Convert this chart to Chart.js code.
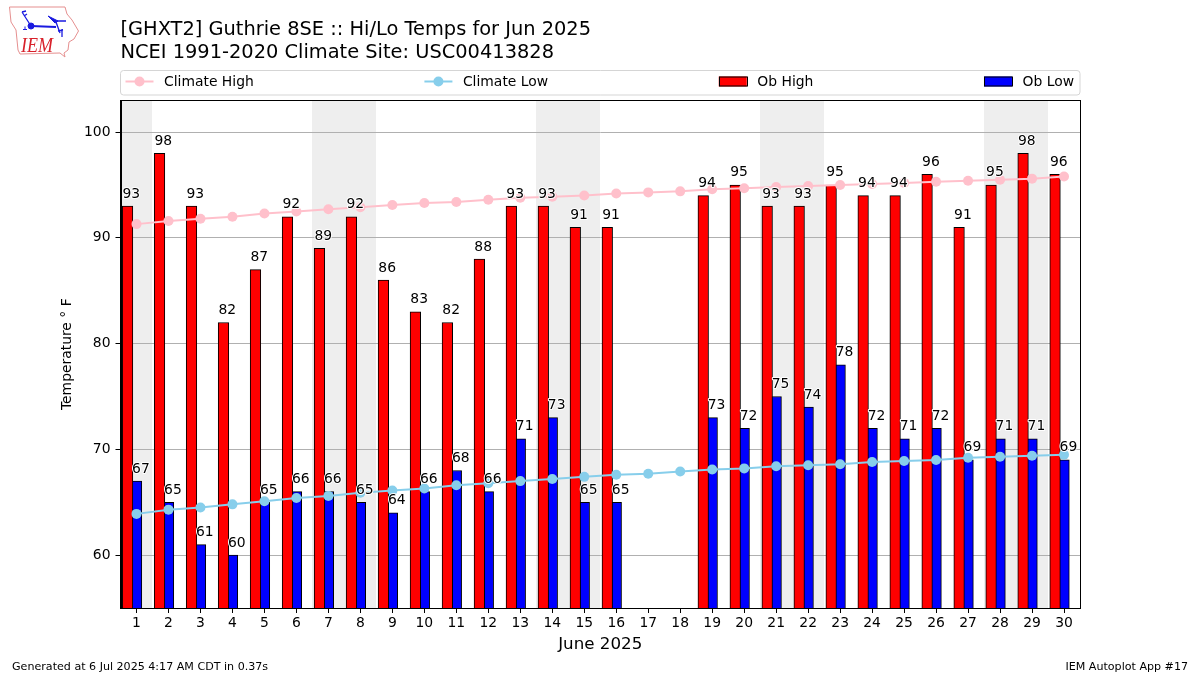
<!DOCTYPE html>
<html>
<head>
<meta charset="utf-8">
<script src="https://cdn.jsdelivr.net/npm/chart.js@4"></script>
<style>
  html, body { margin: 0; background: #fff; }
  #wrap { position: relative; width: 1200px; height: 675px; }
  #logo { position: absolute; left: 0; top: 0; }
</style>
</head>
<body>
<div id="wrap">
  <canvas id="chart" width="1200" height="675"></canvas>
  <svg id="logo" width="90" height="64" viewBox="0 0 90 64">
    <path d="M9.5 7 L65 7 L67 14 L72 20 L78.5 31 L74 39 L69 42 L68 50 L64 53 L65 57 L60 53 L20 54 L18 50 L16 30 L11 22 Z" fill="#fff" stroke="#e58f8f" stroke-width="1"/>
    <g stroke="#1a1ae0" fill="#1a1ae0">
      <path d="M31 26 L56 27" stroke-width="2" fill="none"/>
      <circle cx="31" cy="26" r="3"/>
      <path d="M31 26 L22 12 M22 12 L26 11 M24 16 L27 14" stroke-width="1.3" fill="none"/>
      <path d="M48 16 L58 21 L55 23 Z" stroke-width="1"/>
      <path d="M57 21 L66 21 M56 22 L60 33 M62 29 L62 37 M58 31 L63 30" stroke-width="1.3" fill="none"/>
      <path d="M23 29.5 L27 29.5 M25 26.5 L25 29" stroke-width="1" fill="none"/>
    </g>
    <text x="21" y="52" font-family="Liberation Serif" font-style="italic" font-size="22" textLength="32" lengthAdjust="spacingAndGlyphs" fill="#d8202a">IEM</text>
  </svg>
</div>
<script>
const days = [1,2,3,4,5,6,7,8,9,10,11,12,13,14,15,16,17,18,19,20,21,22,23,24,25,26,27,28,29,30];
const obHigh = [93,98,93,82,87,92,89,92,86,83,82,88,93,93,91,91,null,null,94,95,93,93,95,94,94,96,91,95,98,96];
const obLow = [67,65,61,60,65,66,66,65,64,66,68,66,71,73,65,65,null,null,73,72,75,74,78,72,71,72,69,71,71,69];
const climateHigh = [91.3,91.6,91.8,92.0,92.3,92.5,92.7,92.9,93.1,93.3,93.4,93.6,93.8,93.9,94.0,94.2,94.3,94.4,94.6,94.7,94.8,94.9,95.0,95.1,95.2,95.3,95.4,95.5,95.6,95.8];
const climateLow = [63.9,64.3,64.5,64.8,65.1,65.4,65.6,65.9,66.1,66.3,66.6,66.8,67.0,67.2,67.4,67.6,67.7,67.9,68.1,68.2,68.4,68.5,68.6,68.8,68.9,69.0,69.2,69.3,69.4,69.5];
const weekendDays = [1,7,8,14,15,21,22,28,29];
const titleLines = ["[GHXT2] Guthrie 8SE :: Hi/Lo Temps for Jun 2025", "NCEI 1991-2020 Climate Site: USC00413828"];

const FONT = "'DejaVu Sans'";

// weekend bands go under the grid
const shading = {
  id: "shading",
  beforeDraw(chart) {
    const { ctx, chartArea, scales } = chart;
    ctx.save();
    ctx.fillStyle = "#eeeeee";
    weekendDays.forEach(d => {
      const x0 = Math.round(scales.x.getPixelForValue(d - 0.5));
      const x1 = Math.round(scales.x.getPixelForValue(d + 0.5));
      ctx.fillRect(x0, chartArea.top, x1 - x0, chartArea.bottom - chartArea.top);
    });
    ctx.restore();
  }
};

// value labels with a white halo, on top of the lines
const barLabels = {
  id: "barLabels",
  afterDatasetsDraw(chart) {
    const { ctx } = chart;
    ctx.save();
    ctx.font = `13.9px ${FONT}`;
    ctx.textAlign = "center";
    ctx.textBaseline = "alphabetic";
    ctx.lineJoin = "round";
    chart.data.datasets.forEach((ds, i) => {
      if (ds.type === "line") return;
      chart.getDatasetMeta(i).data.forEach((bar, j) => {
        const v = ds.data[j].y;
        if (v === null) return;
        const x = bar.x + (ds.label === "Ob High" ? 3.8 : 4.4), y = bar.y - 8.5;
        ctx.strokeStyle = "#ffffff";
        ctx.lineWidth = 2;
        ctx.strokeText(v, x, y);
        ctx.fillStyle = "#000000";
        ctx.fillText(v, x, y);
      });
    });
    ctx.restore();
  }
};

// frame, expanded legend box and the footer notes
const furniture = {
  id: "furniture",
  afterDraw(chart) {
    const { ctx, chartArea: a } = chart;
    ctx.save();
    ctx.strokeStyle = "#000";
    ctx.lineWidth = 1;
    ctx.strokeRect(Math.round(a.left) + 0.5, Math.round(a.top) + 0.5, Math.round(a.right - a.left) - 1, Math.round(a.bottom - a.top));

    const boxL = 120.5, boxR = 1080, boxT = 70.5, boxB = 95;
    ctx.strokeStyle = "#d5d5d5";
    ctx.beginPath();
    ctx.roundRect(boxL, boxT, boxR - boxL, boxB - boxT, 3);
    ctx.stroke();

    ctx.font = `13.9px ${FONT}`;
    ctx.textBaseline = "alphabetic";
    ctx.textAlign = "left";
    const handle = 28, textGap = 10.5, insetL = 5, insetR = 6;
    const items = chart.data.datasets.map(ds => ds);
    const widths = items.map(ds => handle + textGap + ctx.measureText(ds.label).width);
    const gap = (boxR - boxL - insetL - insetR - widths.reduce((s, w) => s + w, 0)) / (items.length - 1);
    let x = boxL + insetL;
    const midY = 81.5;
    items.forEach((ds, i) => {
      if (ds.type === "line") {
        ctx.strokeStyle = ds.borderColor;
        ctx.lineWidth = 2;
        ctx.beginPath();
        ctx.moveTo(x, midY);
        ctx.lineTo(x + handle, midY);
        ctx.stroke();
        ctx.fillStyle = ds.borderColor;
        ctx.beginPath();
        ctx.arc(x + handle / 2, midY, 5, 0, Math.PI * 2);
        ctx.fill();
      } else {
        ctx.fillStyle = ds.backgroundColor;
        ctx.fillRect(x, midY - 5, handle, 10);
        ctx.strokeStyle = "#000";
        ctx.lineWidth = 1;
        ctx.strokeRect(Math.round(x) + 0.5, midY - 4.5, handle, 9);
      }
      ctx.fillStyle = "#000";
      ctx.fillText(ds.label, x + handle + textGap, 86);
      x += widths[i] + gap;
    });

    ctx.font = `11.1px ${FONT}`;
    ctx.fillStyle = "#000";
    ctx.fillText("Generated at 6 Jul 2025 4:17 AM CDT in 0.37s", 12, 670);
    ctx.textAlign = "right";
    ctx.fillText("IEM Autoplot App #17", 1188, 670);
    ctx.restore();
  }
};

new Chart(document.getElementById("chart"), {
  type: "bar",
  data: {
    datasets: [
      { type: "line", label: "Climate High", data: days.map((d, i) => ({ x: d, y: climateHigh[i] })),
        borderColor: "#ffc0cb", backgroundColor: "#ffc0cb", borderWidth: 2, pointRadius: 5, pointBorderWidth: 0, tension: 0, order: 1 },
      { type: "line", label: "Climate Low", data: days.map((d, i) => ({ x: d, y: climateLow[i] })),
        borderColor: "#87ceeb", backgroundColor: "#87ceeb", borderWidth: 2, pointRadius: 5, pointBorderWidth: 0, tension: 0, order: 1 },
      { type: "bar", label: "Ob High", data: days.map((d, i) => ({ x: d - 0.28, y: obHigh[i] })),
        backgroundColor: "#ff0000", borderColor: "#000", borderWidth: 1, barThickness: 10.6, grouped: false, order: 2 },
      { type: "bar", label: "Ob Low", data: days.map((d, i) => ({ x: d, y: obLow[i] })),
        backgroundColor: "#0000ff", borderColor: "#000", borderWidth: 1, barThickness: 10.6, grouped: false, order: 2 }
    ]
  },
  options: {
    responsive: false,
    animation: false,
    devicePixelRatio: 1,
    layout: { padding: { top: 19, right: 120, bottom: 0, left: 0 } },
    plugins: {
      legend: { display: false },
      tooltip: { enabled: false },
      title: {
        display: true,
        fullSize: false,
        align: "start",
        text: titleLines,
        color: "#000",
        font: { family: FONT, size: 19.4, weight: "normal", lineHeight: 1.17 },
        padding: { top: 0, bottom: 36 }
      }
    },
    scales: {
      x: {
        type: "linear",
        offset: false,
        min: 0.5,
        max: 30.5,
        afterFit: s => { s.height = 67; },
        afterBuildTicks: s => { s.ticks = days.map(d => ({ value: d })); },
        grid: { offset: false, drawOnChartArea: false, tickColor: "#000", tickLength: 5, drawTicks: true },
        border: { color: "#000" },
        ticks: { autoSkip: false, maxRotation: 0, color: "#000", padding: 2, font: { family: FONT, size: 13.9 } },
        title: { display: true, text: "June 2025", color: "#000", font: { family: FONT, size: 16.7 }, padding: { top: 0, bottom: 20 } }
      },
      y: {
        min: 55,
        max: 103,
        afterFit: s => { s.width = 120.5; },
        grid: { color: "#b0b0b0", tickColor: "#000", tickLength: 5, lineWidth: 1 },
        border: { color: "#000" },
        ticks: { stepSize: 10, includeBounds: false, color: "#000", padding: 5, font: { family: FONT, size: 13.9 } },
        title: { display: true, text: "Temperature ° F", color: "#000", font: { family: FONT, size: 13.9 }, padding: { top: 59, bottom: 0 } }
      }
    }
  },
  plugins: [shading, barLabels, furniture]
});
</script>
</body>
</html>
